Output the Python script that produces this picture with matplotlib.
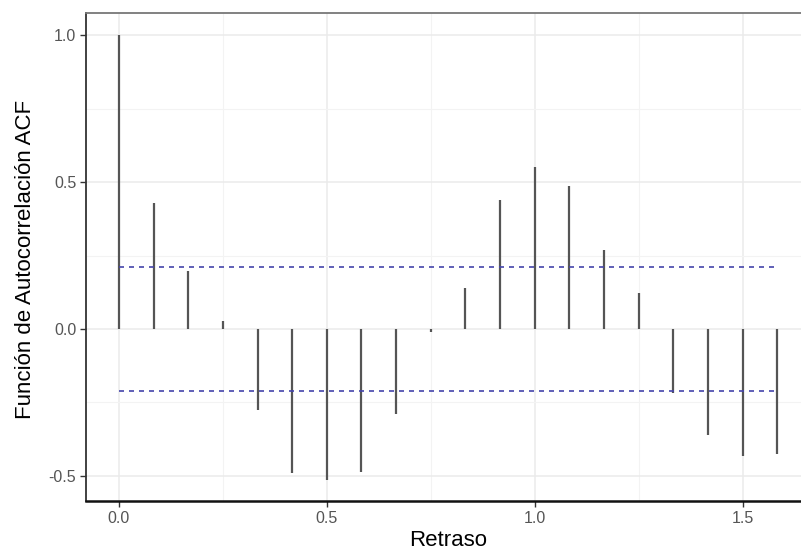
import matplotlib
matplotlib.use("Agg")
import matplotlib.pyplot as plt
import numpy as np

lags = [i / 12 for i in range(20)]
acf_values = [1.0, 0.429, 0.197, 0.028, -0.276, -0.489, -0.514, -0.488, -0.29, -0.009,
              0.138, 0.439, 0.55, 0.487, 0.269, 0.121, -0.219, -0.361, -0.432, -0.426]
ci_bound = 0.212
x_ticks = [0.0, 0.5, 1.0, 1.5]
y_ticks = [-0.5, 0.0, 0.5, 1.0]
x_label = "Retraso"
y_label = "Función de Autocorrelación ACF"

plt.rcParams['font.family'] = ['Liberation Sans', 'DejaVu Sans']

fig = plt.figure(figsize=(8.01, 5.53), dpi=100)
ax = fig.add_axes([86/801, 52/553, (810-86)/801, (501-13)/553])

ax.set_xlim(-0.0792, 1.662)
ax.set_ylim(-0.586, 1.076)

ax.set_xticks(x_ticks)
ax.set_yticks(y_ticks)
ax.set_xticks([0.25, 0.75, 1.25], minor=True)
ax.set_yticks([-0.25, 0.25, 0.75], minor=True)
ax.grid(which='major', color='#ebebeb', linewidth=1.1)
ax.grid(which='minor', color='#f3f3f3', linewidth=0.8)
ax.set_axisbelow(True)

ax.vlines(lags, 0, acf_values, color='#555555', linewidth=1.6, zorder=3)
ax.hlines([ci_bound, -ci_bound], lags[0], lags[-1], colors='#4444aa',
          linestyles=(0, (3, 3)), linewidth=1.2, zorder=4)

ax.set_xticklabels([f"{v:.1f}" for v in x_ticks])
ax.set_yticklabels([f"{v:.1f}" for v in y_ticks])
ax.tick_params(which='major', length=4, color='#333333', labelcolor='#555555',
               labelsize=11.5, width=1, pad=3)
ax.tick_params(which='minor', length=0)

for s in ['top', 'right']:
    ax.spines[s].set_color('#777777')
    ax.spines[s].set_linewidth(1.3)
ax.spines['left'].set_color('#333333')
ax.spines['left'].set_linewidth(1.3)
ax.spines['bottom'].set_color('#111111')
ax.spines['bottom'].set_linewidth(1.8)

ax.set_xlabel(x_label, fontsize=16, color='black', labelpad=3)
ax.set_ylabel(y_label, fontsize=16, color='black')
ax.yaxis.set_label_coords((36 - 86) / 724, 0.494)

fig.savefig("out.png", dpi=100)
